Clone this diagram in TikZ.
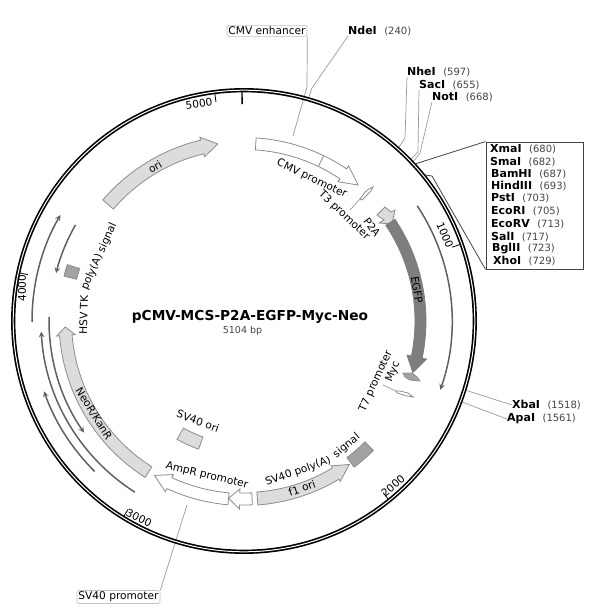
\documentclass[tikz,border=0pt]{standalone}
\usepackage{fontspec}
\setmainfont{DejaVu Sans}
\definecolor{myline}{HTML}{8C8C8C}
\definecolor{myleader}{HTML}{9A9A9A}
\definecolor{mylight}{HTML}{DCDCDC}
\definecolor{mymid}{HTML}{A2A2A2}
\definecolor{mydark}{HTML}{7E7E7E}
\definecolor{mythin}{HTML}{606060}
\definecolor{mynum}{HTML}{444444}
\newcommand{\mapfont}{\fontsize{10.6}{12}\selectfont}
\newcommand{\site}[2]{\textbf{#1}\hspace{7.5pt}{\fontsize{10}{12}\selectfont\color{mynum}(#2)}}
\newcommand{\feat}[7]{\draw[#1] (#4:#3) arc[start angle=#4, end angle=#5, radius=#3] -- (#5:#3+#7) -- (#6:#2/2+#3/2) -- (#5:#2-#7) -- (#5:#2) arc[start angle=#5, end angle=#4, radius=#2] -- cycle;}
\newcommand{\block}[5]{\draw[#1] (#4:#3) arc[start angle=#4, end angle=#5, radius=#3] -- (#5:#2) arc[start angle=#5, end angle=#4, radius=#2] -- cycle;}
\tikzset{
	white feat/.style={draw=myline, fill=white, line width=0.8pt},
	light feat/.style={draw=myline, fill=mylight, line width=0.8pt},
	mid feat/.style={draw=myline, fill=mymid, line width=0.8pt},
	thin feat/.style={draw=mythin, line width=1.5pt},
	leader/.style={draw=myleader, line width=0.7pt},
	site label/.style={anchor=west, inner sep=0pt, font=\fontsize{11}{12}\selectfont},
	map label/.style={inner sep=0pt, font=\mapfont},
	tag label/.style={draw=myleader!60, rounded corners=1.5pt, inner sep=1.5pt, line width=0.6pt, font=\mapfont},
}

\begin{document}
\begin{tikzpicture}[x=1pt, y=-1pt]
	\useasboundingbox (0,0) rectangle (600,610);

	\node[tag label] (enhancer) at (267,31) {CMV enhancer};
	\node[tag label] (sv40prom) at (118.5,597) {SV40 promoter};
	\node[site label] (ndei) at (348,31) {\site{NdeI}{240}};
	\node[site label] (nhei) at (407,72) {\site{NheI}{597}};
	\node[site label] (saci) at (419,85) {\site{SacI}{655}};
	\node[site label] (noti) at (432,97) {\site{NotI}{668}};
	\node[site label] (xbai) at (512,405) {\site{XbaI}{1518}};
	\node[site label] (apai) at (507,419) {\site{ApaI}{1561}};

	\node[draw=mynum, line width=0.9pt, inner sep=0pt, minimum width=97pt, minimum height=127pt] (mcs) at (534.5,205.5) {};
	\node[site label] (xmai) at (490,149) {\site{XmaI}{680}};
	\node[site label] (smai) at (490,162) {\site{SmaI}{682}};
	\node[site label] (bamhi) at (491,174) {\site{BamHI}{687}};
	\node[site label] (hindiii) at (491,186) {\site{HindIII}{693}};
	\node[site label] (psti) at (491,198) {\site{PstI}{703}};
	\node[site label] (ecori) at (491,211) {\site{EcoRI}{705}};
	\node[site label] (ecorv) at (491,224) {\site{EcoRV}{713}};
	\node[site label] (sali) at (491,237) {\site{SalI}{717}};
	\node[site label] (bglii) at (492,249) {\site{BglII}{723}};
	\node[site label] (xhoi) at (493,261) {\site{XhoI}{729}};

	\coordinate (ndeia) at (312,88);
	\coordinate (ndeib) at (309,97);
	\coordinate (enhancera) at (307,87);
	\coordinate (enhancerb) at (293,136);
	\coordinate (nheia) at (405,138);
	\coordinate (nheib) at (399,147);
	\coordinate (sacia) at (418,152);
	\coordinate (sacib) at (411,159);
	\coordinate (notia) at (420,153);
	\coordinate (notib) at (413,162);
	\coordinate (xbaib) at (465,390);
	\coordinate (apaib) at (462,402);
	\coordinate (sv40b) at (187,505);
	\coordinate (mcsa) at (415,164);
	\coordinate (mcsb) at (432,176);
	\coordinate (mcsc) at (425,175);
	\coordinate (t3a) at (350,210);
	\coordinate (t3b) at (360,199);
	\coordinate (t7a) at (383,385);
	\coordinate (t7b) at (396,391);

	\draw[leader] (ndei.south west) -- (ndeia) -- (ndeib);
	\draw[leader] (enhancer.south east) -- (enhancera) -- (enhancerb);
	\draw[leader] (nhei.south west) -- (nheia) -- (nheib);
	\draw[leader] (saci.south west) -- (sacia) -- (sacib);
	\draw[leader] (noti.south west) -- (notia) -- (notib);
	\draw[leader] (xbai.west) -- (xbaib);
	\draw[leader] (apai.west) -- (apaib);
	\draw[leader] (sv40prom.north east) -- (sv40b);
	\draw[leader] (t3a) -- (t3b);
	\draw[leader] (t7a) -- (t7b);
	\draw[mynum, line width=0.8pt] (mcs.north west) -- (mcsa);
	\draw[mynum, line width=0.8pt] (mcs.south west) -- (mcsb) -- (mcsc);

	\draw[white feat] (360,199) -- (362,200) -- (368,194) -- (371,191) -- (373,187) -- (369,189) -- (365,192) -- cycle;
	\draw[light feat] (377,215) -- (385,207) -- (391,212) -- (395,210) -- (392,224) -- (379,223) -- (384,220) -- cycle;
	\draw[mid feat] (403,373) -- (412,373) -- (417,377) -- (420,381) -- (410,380) -- (405,377) -- cycle;
	\draw[white feat] (396,391) -- (397,393) -- (407,396) -- (413,397) -- (408,393) -- (400,391) -- cycle;

	\begin{scope}[shift={(244,321)}, y=1pt]
		\feat{light feat}{172}{186}{139.4}{103.5}{98.4}{3}
		\feat{white feat}{171.5}{183.5}{86.2}{56}{50}{3.5}
		\draw[myline, line width=0.8pt] (64.3:171.5) -- (64.3:183.5);
		\feat{draw=mydark, fill=mydark, line width=0.8pt}{171}{182}{34}{-11.8}{-17}{4.5}
		\feat{light feat}{172.5}{185}{237.7}{184.6}{181.9}{3}
		\feat{white feat}{172.5}{184.5}{265}{245.3}{239.9}{3.5}
		\feat{white feat}{172}{184}{272.6}{268.6}{265}{4}
		\feat{light feat}{171.5}{184.5}{274.3}{301}{306.3}{2.5}
		\block{mid feat}{171}{183}{307}{315}
		\block{mid feat}{172.5}{185.5}{162.3}{166}
		\block{light feat}{123}{136}{240.5}{250.5}

		\draw[thin feat, -stealth] (33.6:208) arc[start angle=33.6, end angle=-19.3, radius=208];
		\draw[thin feat, -stealth] (180.3:212) arc[start angle=180.3, end angle=150, radius=212];
		\draw[thin feat, -stealth] (150.3:194) arc[start angle=150.3, end angle=165.7, radius=194];
		\draw[thin feat, -stealth] (178.8:195) arc[start angle=178.8, end angle=214.9, radius=195];
		\draw[thin feat, -stealth] (237.5:203) arc[start angle=237.5, end angle=183, radius=203];
		\draw[thin feat, -stealth] (225.2:212) arc[start angle=225.2, end angle=199.4, radius=212];

		\draw[black, line width=4.3pt] (0,0) circle (230.8);
		\draw[white, line width=1pt] (0,0) circle (230.8);

		\draw[black, line width=1.4pt] (90.5:217) -- (90.5:229);
		\draw[black, line width=0.8pt] (19.5:221) -- (19.5:229);
		\draw[black, line width=0.8pt] (-51:221) -- (-51:229);
		\draw[black, line width=0.8pt] (-121.6:221) -- (-121.6:229);
		\draw[black, line width=0.8pt] (167.9:221) -- (167.9:229);
		\draw[black, line width=0.8pt] (97.3:221) -- (97.3:229);

		\node[map label] (cmvlab) at (64.5:157.5) [rotate=-25.5] {CMV promoter};
		\node[map label] (t3lab) at (46.5:145.4) [rotate=-43.5] {T3 promoter};
		\node[map label] (t7lab) at (-24.5:145) [rotate=65.5] {T7 promoter};
		\node[map label] (amprlab) at (256.5:159) [rotate=-13.5] {AmpR promoter};
		\node[map label] (neolab) at (211.7:176.7) [rotate=-58.3] {NeoR/KanR};
		\node[map label] (hsvlab) at (177.8:160.5) [rotate=88] {HSV TK};
		\node[map label] (hsvlabb) at (156:158.6) [rotate=66] {poly(A) signal};
		\node[map label] (polylab) at (289.8:160) [rotate=19.8] {SV40 poly(A)};
		\node[map label] (polylabb) at (309.4:161.5) [rotate=39.4] {signal};
	\end{scope}

	\node[map label] (orilab) at (155,167) [rotate=30] {ori};
	\node[map label] (p2alab) at (372,227) [rotate=-54] {P2A};
	\node[map label] (egfplab) at (417,290) [rotate=-80] {EGFP};
	\node[map label] (myclab) at (393,372) [rotate=68] {Myc};
	\node[map label] (f1lab) at (302,488) [rotate=19] {f1 ori};
	\node[map label] (sv40lab) at (198,421) [rotate=-21] {SV40 ori};

	\node[map label] (t1000) at (445,235) [rotate=-67] {1000};
	\node[map label] (t2000) at (393,486) [rotate=41] {2000};
	\node[map label] (t3000) at (139,518) [rotate=-26] {3000};
	\node[map label] (t4000) at (22,288) [rotate=90] {4000};
	\node[map label] (t5000) at (199,104) [rotate=8] {5000};

	\node[inner sep=0pt, font=\fontsize{13.7}{15}\selectfont\bfseries] (title) at (250,317) {pCMV-MCS-P2A-EGFP-Myc-Neo};
	\node[inner sep=0pt, text=mynum, font=\fontsize{9.5}{12}\selectfont] (size) at (242.5,331) {5104 bp};
\end{tikzpicture}
\end{document}
